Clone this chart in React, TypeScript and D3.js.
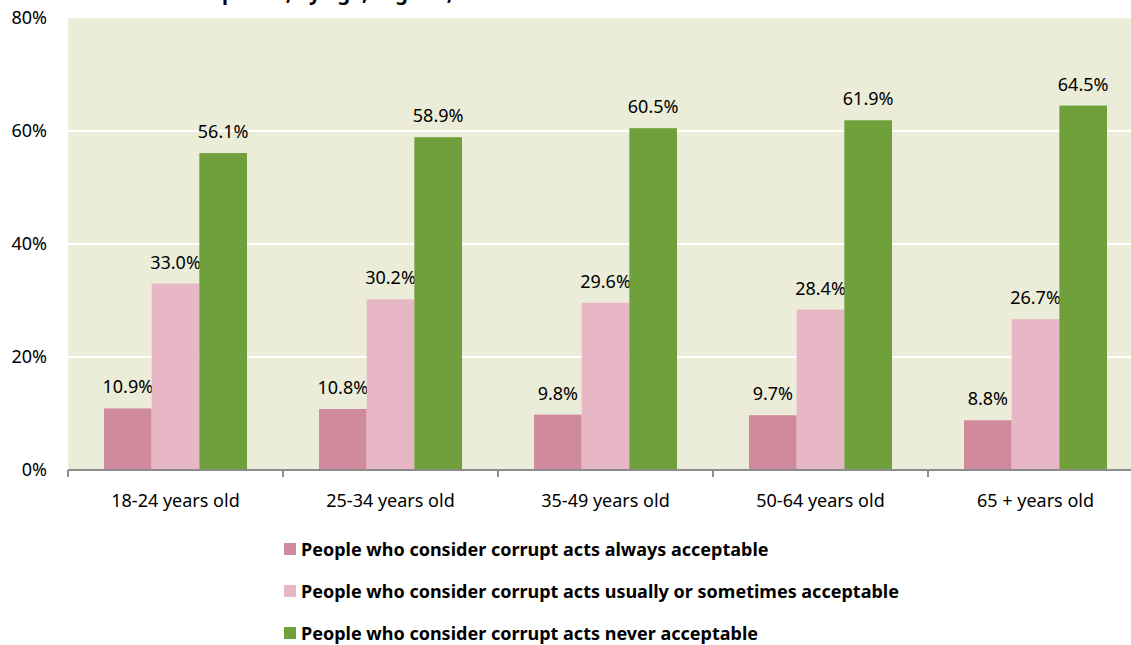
import React, { useEffect, useRef } from "react";
import * as d3 from "d3";

const categories = ["18-24 years old", "25-34 years old", "35-49 years old", "50-64 years old", "65 + years old"];
const seriesNames = [
  "People who consider corrupt acts always acceptable",
  "People who consider corrupt acts usually or sometimes acceptable",
  "People who consider corrupt acts never acceptable",
];
const alwaysValues = [10.9, 10.8, 9.8, 9.7, 8.8];
const sometimesValues = [33.0, 30.2, 29.6, 28.4, 26.7];
const neverValues = [56.1, 58.9, 60.5, 61.9, 64.5];
const yTicks = [0, 20, 40, 60, 80];
const colors = ["#D08A9E", "#E8B7C6", "#70A03C"];
const titleText = "Share of adults who deem bribes acceptable, by age, Nigeria, 2016";

export default function App() {
  const W = 1131, H = 645;
  const left = 68, right = 68 + 5 * 215, top = 18, bottom = 470;
  const x = d3.scaleBand<string>().domain(categories).range([left, right]).paddingInner(0).paddingOuter(0);
  const y = d3.scaleLinear().domain([0, 80]).range([bottom, top]);
  const series = [alwaysValues, sometimesValues, neverValues];
  const inner = d3.scaleBand<number>().domain([0, 1, 2]).range([36, 215 - 36]);
  const font = "'Noto Sans', sans-serif";
  const fs = 18;
  const titleRef = useRef<SVGTextElement>(null);

  useEffect(() => {
    const el = titleRef.current;
    if (!el) return;
    const idx = titleText.indexOf("acceptable") + 3;
    try {
      const px = el.getStartPositionOfChar(idx).x;
      const cur = parseFloat(el.getAttribute("x") || "0");
      el.setAttribute("x", String(cur + (210 - px)));
    } catch (e) {}
  }, []);

  return (
    <svg width={W} height={H} style={{ position: "absolute", left: 0, top: 0, display: "block" }}>
      <rect x={0} y={0} width={W} height={H} fill="#ffffff" />
      <text ref={titleRef} x={0} y={0} fontFamily={font} fontWeight="bold" fontSize={20} fill="#000">{titleText}</text>
      <rect x={left} y={top} width={right - left} height={bottom - top} fill="#EBEDD9" />
      {yTicks.slice(1, -1).map((t) => (
        <line key={t} x1={left} x2={right} y1={y(t)} y2={y(t)} stroke="#ffffff" strokeWidth={2} />
      ))}
      {yTicks.map((t) => (
        <text key={t} x={47} y={y(t)} dy="0.35em" textAnchor="end" fontFamily={font} fontSize={fs} fill="#000">{t}%</text>
      ))}
      {categories.map((c, i) =>
        series.map((vals, s) => {
          const bx = (x(c) as number) + (inner(s) as number);
          const bw = inner.bandwidth();
          return (
            <g key={c + s}>
              <rect x={bx} y={y(vals[i])} width={bw} height={bottom - y(vals[i])} fill={colors[s]} />
              <text x={bx + bw / 2} y={y(vals[i]) - 15} textAnchor="middle" fontFamily={font} fontSize={fs} fill="#000">{vals[i].toFixed(1)}%</text>
            </g>
          );
        })
      )}
      <line x1={left} x2={right} y1={bottom} y2={bottom} stroke="#8C8C8C" strokeWidth={2} />
      {d3.range(6).map((i) => {
        const tx = left + i * x.bandwidth();
        return <line key={i} x1={tx} x2={tx} y1={bottom} y2={bottom + 7} stroke="#8C8C8C" strokeWidth={2} />;
      })}
      {categories.map((c) => (
        <text key={c} x={(x(c) as number) + x.bandwidth() / 2} y={507} textAnchor="middle" fontFamily={font} fontSize={fs} fill="#000">{c}</text>
      ))}
      {seriesNames.map((n, i) => {
        const ly = 550 + i * 42;
        return (
          <g key={n}>
            <rect x={284} y={ly - 7} width={12} height={12} fill={colors[i]} />
            <text x={301} y={ly} dy="0.35em" fontFamily={font} fontWeight="bold" fontSize={fs} fill="#000">{n}</text>
          </g>
        );
      })}
    </svg>
  );
}
